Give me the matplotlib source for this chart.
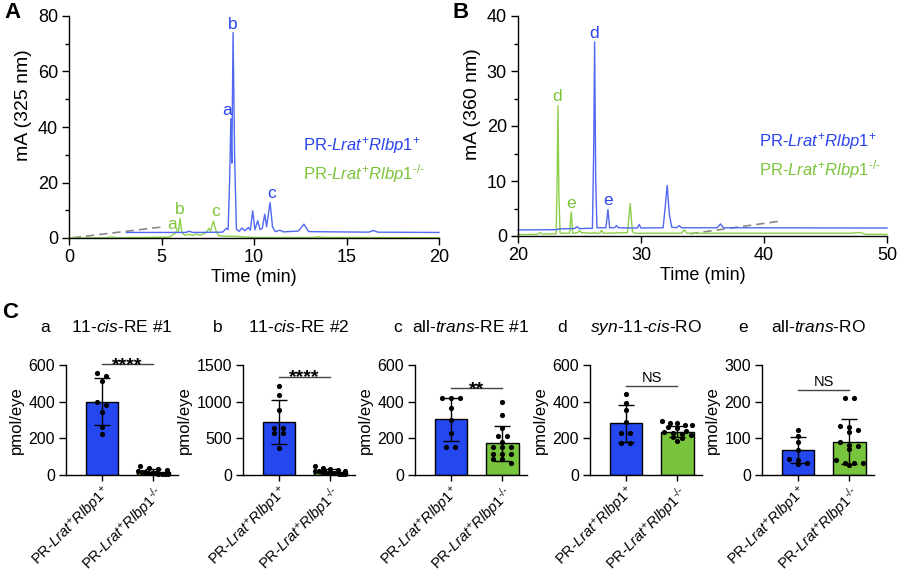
import numpy as np
import matplotlib
matplotlib.use("Agg")
import matplotlib.pyplot as plt
from matplotlib.ticker import MultipleLocator

plt.rcParams["font.family"] = "Liberation Sans"
plt.rcParams["mathtext.fontset"] = "custom"
plt.rcParams["mathtext.rm"] = "Liberation Sans"
plt.rcParams["mathtext.it"] = "Liberation Sans:italic"
plt.rcParams["mathtext.bf"] = "Liberation Sans:bold"
plt.rcParams["axes.linewidth"] = 1.0

# --- chromatogram traces (time in min, signal in mA) ---
a_blue_t = [3.1, 5.0, 6.3, 6.5, 6.7, 8.3, 8.5, 8.6, 8.68, 8.75, 8.8, 8.87, 8.95, 9.05,
            9.2, 9.35, 9.5, 9.7, 9.8, 9.93, 10.05, 10.2, 10.33, 10.45, 10.58, 10.68,
            10.87, 11.0, 11.15, 11.4, 11.6, 12.4, 12.7, 12.95, 16.2, 16.45, 16.7, 20.0]
a_blue_y = [2.0, 2.0, 2.0, 2.4, 2.0, 2.1, 3.5, 3.0, 20.0, 43.0, 27.0, 74.0, 30.0, 3.2,
            2.4, 3.6, 2.6, 3.8, 2.8, 9.8, 3.0, 6.2, 3.0, 3.5, 8.6, 4.0,
            12.8, 4.0, 2.3, 2.8, 2.2, 2.5, 5.0, 2.3, 2.1, 2.7, 2.1, 2.0]
a_green_t = [0.0, 2.0, 2.3, 2.6, 5.4, 5.7, 5.85, 5.92, 6.0, 6.1, 6.25, 6.5, 6.7, 6.9,
             7.1, 7.3, 7.45, 7.55, 7.65, 7.8, 7.95, 8.1, 8.5, 9.0, 9.5, 10.0, 13.3,
             13.5, 13.7, 20.0]
a_green_y = [0.0, 0.1, 0.4, 0.1, 0.3, 1.5, 2.8, 2.5, 7.1, 2.0, 1.0, 1.3, 0.9, 1.4,
             1.0, 1.6, 2.2, 3.5, 2.5, 6.1, 2.5, 0.8, 0.6, 0.6, 0.4, 0.2, 0.2,
             0.5, 0.2, 0.1]
a_dash_t = [0.2, 4.95]
a_dash_y = [0.1, 3.9]

b_blue_t = [20.0, 23.2, 23.3, 24.6, 24.8, 25.0, 26.05, 26.15, 26.23, 26.32, 26.42,
            27.15, 27.31, 27.45, 27.85, 28.0, 28.15, 29.7, 29.85, 30.0, 31.8, 32.0,
            32.13, 32.3, 32.5, 32.9, 33.1, 33.3, 36.2, 36.46, 36.7, 50.0]
b_blue_y = [1.1, 1.15, 1.3, 1.35, 1.7, 1.35, 1.4, 15.0, 35.3, 10.0, 1.5,
            1.5, 4.8, 1.5, 1.5, 1.9, 1.5, 1.45, 2.1, 1.45, 1.5, 6.0,
            9.2, 4.0, 1.6, 1.5, 1.9, 1.5, 1.5, 2.2, 1.5, 1.45]
b_green_t = [20.0, 21.6, 21.8, 22.0, 23.1, 23.18, 23.25, 23.32, 23.42, 24.2, 24.33,
             24.45, 24.85, 25.0, 25.15, 26.1, 26.2, 26.3, 26.65, 26.8, 26.95, 28.9,
             29.12, 29.3, 29.5, 33.3, 33.5, 33.75, 47.0, 47.8, 48.3, 50.0]
b_green_y = [0.25, 0.3, 0.6, 0.35, 0.4, 10.0, 23.7, 8.0, 0.5, 0.5, 4.4,
             0.5, 0.6, 1.0, 0.6, 0.5, 0.7, 0.5, 0.5, 1.0, 0.5, 0.6,
             5.9, 0.8, 0.5, 0.5, 1.1, 0.5, 0.5, 0.65, 0.3, 0.3]
b_dash_t = [34.0, 41.3]
b_dash_y = [0.4, 2.7]

# peak labels (letter, time, height)
a_blue_peaks = [("a", 8.57, 46.0), ("b", 8.87, 76.8), ("c", 10.95, 16.0)]
a_green_peaks = [("a", 5.6, 4.7), ("b", 6.0, 10.3), ("c", 7.9, 9.5)]
b_blue_peaks = [("d", 26.2, 36.9), ("e", 27.36, 6.4)]
b_green_peaks = [("d", 23.2, 25.4), ("e", 24.3, 5.9)]

# --- panel C: quantification (pmol/eye) ---
c_letters = ["a", "b", "c", "d", "e"]
c_titles = [r"11-$\mathit{cis}$-RE #1", r"11-$\mathit{cis}$-RE #2",
            r"all-$\mathit{trans}$-RE #1", r"$\mathit{syn}$-11-$\mathit{cis}$-RO",
            r"all-$\mathit{trans}$-RO"]
c_ymax = [600, 1500, 600, 600, 300]
c_ystep = [200, 500, 200, 200, 100]
wt_mean = [400, 718, 304, 282, 68]
wt_sd = [127, 300, 118, 102, 36]
ko_mean = [17, 45, 173, 236, 91]
ko_sd = [14, 35, 97, 31, 61]
wt_dots = [
    [558, 540, 513, 396, 380, 344, 264, 222],
    [1214, 1086, 886, 645, 645, 568, 568, 364],
    [422, 422, 418, 364, 300, 231, 151, 151],
    [440, 395, 355, 287, 231, 227, 173, 173],
    [123, 107, 91, 68, 43, 41, 32, 30],
]
ko_dots = [
    [49, 36, 31, 27, 24, 18, 15, 13, 9, 9, 6, 4, 4, 3],
    [120, 95, 80, 70, 60, 55, 48, 42, 38, 32, 28, 22, 18, 14, 10],
    [396, 327, 255, 213, 213, 182, 151, 151, 151, 115, 115, 115, 85, 85, 67],
    [295, 282, 282, 275, 273, 260, 255, 240, 235, 230, 225, 220, 210, 200, 185],
    [209, 209, 135, 132, 123, 118, 91, 82, 79, 70, 41, 32, 32, 32, 27],
]
sig_text = ["****", "****", "**", "NS", "NS"]
sig_y = [603, 1340, 473, 487, 232]

LBL_WT = r"PR-$\mathit{Lrat}^{+}\mathit{Rlbp1}^{+}$"
LBL_KO = r"PR-$\mathit{Lrat}^{+}\mathit{Rlbp1}^{\text{-/-}}$"

BLUE_LINE = "#5068f2"
GREEN_LINE = "#8ccf4c"
BLUE_TXT = "#2a44f0"
GREEN_TXT = "#7cc43a"
BLUE_BAR = "#2447f0"
GREEN_BAR = "#78c43c"

W, H = 900, 576
fig = plt.figure(figsize=(9, 5.76), dpi=100)


def px_axes(left, top, right, bottom):
    return fig.add_axes([left / W, 1 - bottom / H, (right - left) / W, (bottom - top) / H])


def style(ax, fs):
    ax.spines["top"].set_visible(False)
    ax.spines["right"].set_visible(False)
    ax.tick_params(direction="out", length=5, width=1, labelsize=fs, pad=3)


def swarm(vals, ymax, h_px=110.0, unit_px=51.4, row_px=4.5, step_px=9.0, max_px=30.0):
    vals = np.asarray(vals, float)
    ypx = vals / ymax * h_px
    order = np.argsort(-ypx, kind="stable")
    offs = np.zeros(len(vals))
    groups, cur = [], []
    for idx in order:
        if cur and ypx[cur[0]] - ypx[idx] > row_px:
            groups.append(cur)
            cur = []
        cur.append(idx)
    groups.append(cur)
    for g in groups:
        n = len(g)
        step = step_px if n < 2 else min(step_px, max_px / (n - 1))
        for j, idx in enumerate(g):
            offs[idx] = (j - (n - 1) / 2) * step / unit_px
    return offs


# ---------- A ----------
axA = px_axes(69, 16, 439, 238)
axA.plot(a_dash_t, a_dash_y, color="#888888", lw=1.2, ls=(0, (5, 3)), clip_on=False)
axA.plot(a_green_t, a_green_y, color=GREEN_LINE, lw=1.0, clip_on=False)
axA.plot(a_blue_t, a_blue_y, color=BLUE_LINE, lw=1.0, clip_on=False)
for s, t, y in a_blue_peaks:
    axA.text(t, y, s, color=BLUE_TXT, fontsize=12.5, ha="center", va="center")
for s, t, y in a_green_peaks:
    axA.text(t, y, s, color=GREEN_TXT, fontsize=12.5, ha="center", va="center")
axA.text(12.65, 33.2, LBL_WT, color=BLUE_TXT, fontsize=12, va="center")
axA.text(12.65, 23.4, LBL_KO, color=GREEN_TXT, fontsize=12, va="center")
axA.set_xlim(0, 20)
axA.set_ylim(0, 80)
axA.set_xticks([0, 5, 10, 15, 20])
axA.set_yticks([0, 20, 40, 60, 80])
axA.yaxis.set_minor_locator(MultipleLocator(10))
style(axA, 13)
axA.tick_params(which="minor", length=3, width=1)
axA.set_xlabel("Time (min)", fontsize=13, labelpad=2)
axA.set_ylabel("mA (325 nm)", fontsize=14, y=0.6)

# ---------- B ----------
axB = px_axes(518, 16, 887, 236)
axB.plot(b_dash_t, b_dash_y, color="#888888", lw=1.2, ls=(0, (5, 3)), clip_on=False)
axB.plot(b_green_t, b_green_y, color=GREEN_LINE, lw=1.0, clip_on=False)
axB.plot(b_blue_t, b_blue_y, color=BLUE_LINE, lw=1.0, clip_on=False)
for s, t, y in b_blue_peaks:
    axB.text(t, y, s, color=BLUE_TXT, fontsize=12.5, ha="center", va="center")
for s, t, y in b_green_peaks:
    axB.text(t, y, s, color=GREEN_TXT, fontsize=12.5, ha="center", va="center")
axB.text(39.6, 17.1, LBL_WT, color=BLUE_TXT, fontsize=12, va="center")
axB.text(39.6, 12.0, LBL_KO, color=GREEN_TXT, fontsize=12, va="center")
axB.set_xlim(20, 50)
axB.set_ylim(0, 40)
axB.set_xticks([20, 30, 40, 50])
axB.set_yticks([0, 10, 20, 30, 40])
axB.yaxis.set_minor_locator(MultipleLocator(5))
style(axB, 13)
axB.tick_params(which="minor", length=3, width=1)
axB.set_xlabel("Time (min)", fontsize=13, labelpad=2)
axB.set_ylabel("mA (360 nm)", fontsize=14, y=0.6)

# ---------- C ----------
c_left = [66, 243, 415, 590, 762]
letter_x = [45, 218, 398, 562, 743]
for i in range(5):
    left = c_left[i]
    ax = px_axes(left, 365, left + 112, 475)
    ax.bar([0, 1], [wt_mean[i], ko_mean[i]], width=0.64, color=[BLUE_BAR, GREEN_BAR],
           edgecolor="black", linewidth=1, zorder=1)
    ax.errorbar([0, 1], [wt_mean[i], ko_mean[i]], yerr=[wt_sd[i], ko_sd[i]], fmt="none",
                ecolor="black", elinewidth=1, capsize=6, capthick=1, zorder=2)
    for xc, vals in ((0, wt_dots[i]), (1, ko_dots[i])):
        off = swarm(vals, c_ymax[i])
        ax.scatter(xc + off, vals, s=14, color="black", zorder=3, clip_on=False, linewidths=0)
    ax.set_xlim(-0.7, 1.48)
    ax.set_ylim(0, c_ymax[i])
    ax.set_yticks(np.arange(0, c_ymax[i] + 1, c_ystep[i]))
    ax.set_xticks([0, 1])
    ax.set_xticklabels([LBL_WT, LBL_KO], rotation=45, ha="right", rotation_mode="anchor")
    style(ax, 11.5)
    ax.tick_params(axis="x", labelsize=10.5, length=4, pad=2)
    ax.set_ylabel("pmol/eye", fontsize=12, labelpad=3)
    # significance bracket
    y = sig_y[i]
    ax.plot([0, 1], [y, y], color="#444444", lw=1, clip_on=False)
    if sig_text[i] == "NS":
        ax.annotate("NS", (0.5, y), xytext=(0, 2.5), textcoords="offset points",
                    ha="center", va="baseline", fontsize=10.5, annotation_clip=False)
    else:
        ax.annotate(sig_text[i], (0.5, y), xytext=(0, -4), textcoords="offset points",
                    ha="center", va="baseline", fontsize=14, fontweight="bold",
                    annotation_clip=False)
    # title with letter
    ax.text(0.5, 1.345, c_titles[i], transform=ax.transAxes, ha="center", va="center",
            fontsize=12.5)
    ax.text((letter_x[i] - left) / 112, 1.345, c_letters[i], transform=ax.transAxes,
            ha="center", va="center", fontsize=12.5)

# panel letters
fig.text(4 / W, 1 - 13 / H, "A", fontsize=16, fontweight="bold", va="center")
fig.text(453 / W, 1 - 13 / H, "B", fontsize=16, fontweight="bold", va="center")
fig.text(2 / W, 1 - 313 / H, "C", fontsize=16, fontweight="bold", va="center")

fig.savefig("out.png", dpi=100)
